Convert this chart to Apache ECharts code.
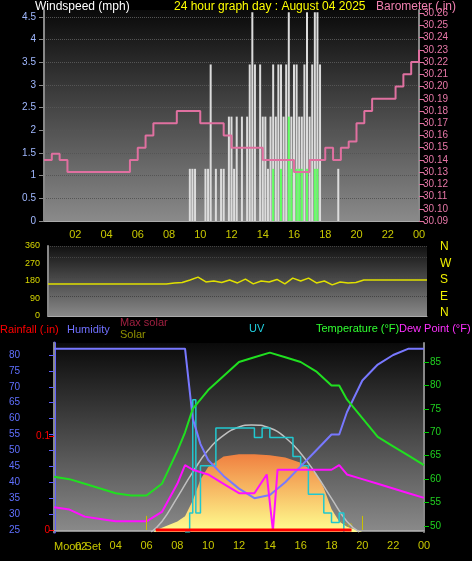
<!DOCTYPE html>
<html><head><meta charset="utf-8">
<script src="https://cdn.jsdelivr.net/npm/echarts@6/dist/echarts.min.js"></script>
<style>html,body{margin:0;background:#000}#c{width:472px;height:561px}</style>
</head><body><div id="c"></div>
<script>
const hourTicksTop=[2,4,6,8,10,12,14,16,18,20,22,24];
const hourTicksBottom=[4,6,8,10,12,14,16,18,20,22,24];
const windTicks=[0,0.5,1,1.5,2,2.5,3,3.5,4,4.5];
const baroTicks=[30.09,30.1,30.11,30.12,30.13,30.14,30.15,30.16,30.17,30.18,30.19,30.2,30.21,30.22,30.23,30.24,30.25,30.26];
const dirTicks=[0,90,180,270,360];
const humTicks=[25,30,35,40,45,50,55,60,65,70,75,80];
const tempTicks=[50,55,60,65,70,75,80,85];
const rainTicks=[0,0.1];
// barometer every half hour 0..24
const baro=[30.14,30.145,30.14,30.13,30.13,30.13,30.13,30.13,30.13,30.13,30.13,30.14,30.15,30.16,30.17,30.17,30.17,30.18,30.18,30.18,30.17,30.17,30.17,30.16,30.15,30.15,30.15,30.15,30.14,30.14,30.14,30.14,30.13,30.13,30.14,30.14,30.15,30.14,30.15,30.155,30.17,30.18,30.19,30.19,30.19,30.2,30.21,30.22,30.23];
// wind gust every 10 min from 9:00 to 19:00
const gust=[0,0,1.15,1.15,1.15,0,0,0,1.15,1.15,3.45,0,1.15,0,1.15,1.15,0,2.3,2.3,1.15,2.3,0,2.3,0,2.3,3.45,4.6,3.45,0,3.45,2.3,2.3,1.15,2.3,3.45,2.3,3.45,3.45,2.3,3.45,4.6,2.3,3.45,3.45,2.3,2.3,3.45,4.6,2.3,3.45,4.6,4.6,3.45,0,0,0,0,0,0,1.15,0];
const avgWind=[0,0,0,0,0,0,0,0,0,0,0,0,0,0,0,0,0,0,0,0,0,0,0,0,0,0,0,0,0,0,0,0,0,0,1.15,0,0,1.15,0,0,2.3,1.15,0,1.15,1.15,1.15,0,1.15,0,0,1.15,1.15,0,0,0,0,0,0,0,0,0];
// wind direction every half hour
const dir=[165,165,165,165,165,165,165,165,165,165,165,165,165,165,165,165,170,172,185,200,175,180,172,185,170,190,165,180,175,188,165,195,180,195,170,180,160,175,170,172,185,185,185,185,185,185,185,185,185];
const humT=[0,8.5,9,9.5,10,11,12,13,14,15,16,17,18,18.5,19,20,21,22,23,24];
const hum=[82,82,60,52,47,42,38,35,36,40,45,50,55,55,62,72,77,80,82,82];
const tempT=[0,1,2,3,4,5,6,7,8,8.5,9,10,11,12,13,14,15,16,17,18,18.5,19,20,21,22,23,24];
const temp=[60.5,60,59,58,57,56.5,56.5,59,66,70,75,79,82,85,86,87,86,85,83,80,80,77,73,69,67,65,63];
const dewT=[0,1,2,3,4,5,6,7,8,8.5,9,10,11,12,13,13.8,14.2,14.5,15,16,17,18,18.5,19,20,21,22,23,24];
const dew=[54,53.5,52,51.5,51,51,51,53,59,63,62,61,59,57,57,61,49,62,62,62,62,62,63,61,60,59,58,57,56];
const solarT=[6.5,7,8,8.5,9,9.5,10,11,12,13,14,15,16,17,17.5,18,18.5,19,20];
const solar=[10,40,100,150,300,500,620,720,740,740,730,710,660,560,420,220,100,50,0];
const maxSolarT=[6.3,7,8,9,10,11,12,12.8,14,15,16,17,18,19,19.8];
const maxSolar=[0,100,330,570,780,920,1000,1020,990,900,750,550,320,100,0];
const uvT=[8.5,8.8,9,9.2,9.5,10.3,10.5,12.5,13,13.5,14,14.5,15.5,16,16.5,17.5,18,18.5,18.8];
const uv=[0,1,7,1,3.5,3.5,5.5,5.5,5,5.5,5,5,4,3.5,2,1,0.5,1,0];
const rainT=[6.6,19.3];
const rain=[0,0];

const pair=(xs,ys)=>xs.map((x,i)=>[x,ys[i]]);
const halfHour=a=>a.map((v,i)=>[i*0.5,v]);
const tenMin=a=>a.map((v,i)=>[9+i/6,v]);
const pad=v=>String(v%24).padStart(2,'0');
const bg=(a,b)=>({type:'linear',x:0,y:0,x2:0,y2:1,colorStops:[{offset:0,color:a},{offset:1,color:b}]});
const F='Liberation Sans';
const xa=(gi,ticks,show)=>({type:'value',gridIndex:gi,min:0,max:24,
 axisLine:{show:true,lineStyle:{color:'#aaa'}},axisTick:{show:false},splitLine:{show:false},
 axisLabel:{show:show,customValues:ticks,formatter:pad,color:'#c8c800',fontFamily:F,fontSize:11,margin:8}});
const ch=echarts.init(document.getElementById('c'));
ch.setOption({
 backgroundColor:'#000',animation:false,
 grid:[
  {left:44,right:53,top:10,height:211,show:true,backgroundColor:bg('#0a0a0a','#8a8a8a'),borderWidth:0},
  {left:48,right:45,top:246,height:70,show:true,backgroundColor:bg('#111','#888'),borderWidth:0},
  {left:54,right:48,top:343,height:189,show:true,backgroundColor:bg('#0a0a0a','#8a8a8a'),borderWidth:0}
 ],
 xAxis:[xa(0,hourTicksTop,true),xa(1,[],false),xa(2,hourTicksBottom,true)],
 yAxis:[
  {type:'value',gridIndex:0,min:0,max:4.65,axisLine:{show:true,lineStyle:{color:'#888',width:2}},axisTick:{show:true,customValues:windTicks,lineStyle:{color:'#888'}},
   splitLine:{show:true,lineStyle:{color:'#555',type:'dotted'}},axisLabel:{customValues:windTicks,color:'#a0b8ff',fontFamily:F,fontSize:10}},
  {type:'value',gridIndex:0,min:30.09,max:30.2626,position:'right',axisLine:{show:true,lineStyle:{color:'#888',width:2}},axisTick:{show:true,customValues:baroTicks,lineStyle:{color:'#e070a0'}},
   splitLine:{show:false},axisLabel:{customValues:baroTicks,formatter:v=>v.toFixed(2),color:'#e878a8',fontFamily:F,fontSize:10,margin:4}},
  {type:'value',gridIndex:1,min:0,max:360,axisLine:{show:true,lineStyle:{color:'#888',width:2}},axisTick:{show:false},
   splitLine:{show:true,lineStyle:{color:'#444',type:'dotted'}},axisLabel:{customValues:dirTicks,color:'#d8d800',fontFamily:F,fontSize:9}},
  {type:'value',gridIndex:2,min:24.37,max:83.77,position:'left',offset:26,axisLine:{show:true,lineStyle:{color:'#6060ff',width:3}},axisTick:{show:true,customValues:humTicks,lineStyle:{color:'#6060ff'}},
   splitLine:{show:false},axisLabel:{customValues:humTicks,color:'#6070ff',fontFamily:F,fontSize:10}},
  {type:'value',gridIndex:2,min:-0.0021,max:0.199,position:'left',offset:0,axisLine:{show:true,lineStyle:{color:'#888',width:2}},axisTick:{show:true,customValues:rainTicks,lineStyle:{color:'#f00'}},
   splitLine:{show:false},axisLabel:{customValues:rainTicks,color:'#f00',fontFamily:F,fontSize:10,margin:4}},
  {type:'value',gridIndex:2,min:48.72,max:89.05,position:'right',offset:0,axisLine:{show:true,lineStyle:{color:'#888',width:2}},axisTick:{show:true,customValues:tempTicks,lineStyle:{color:'#0c0'}},
   splitLine:{show:false},axisLabel:{customValues:tempTicks,color:'#20d020',fontFamily:F,fontSize:10,margin:6}},
  {type:'value',gridIndex:2,min:0,max:1800,show:false},
  {type:'value',gridIndex:2,min:0,max:10,show:false}
 ],
 series:[
  {type:'bar',xAxisIndex:0,yAxisIndex:0,data:tenMin(gust),barWidth:2,itemStyle:{color:'#dcdcdc'}},
  {type:'bar',xAxisIndex:0,yAxisIndex:0,data:tenMin(avgWind),barWidth:2,barGap:'-100%',itemStyle:{color:'#60ff60'}},
  {type:'line',xAxisIndex:0,yAxisIndex:1,data:halfHour(baro),step:'end',symbol:'none',lineStyle:{color:'#e070a0',width:2}},
  {type:'line',xAxisIndex:1,yAxisIndex:2,data:halfHour(dir),symbol:'none',lineStyle:{color:'#e0e000',width:1.5}},
  {type:'line',xAxisIndex:2,yAxisIndex:6,data:pair(solarT,solar),symbol:'none',lineStyle:{width:0},
   areaStyle:{opacity:1,color:bg('#f08040','#ffff90')}},
  {type:'line',xAxisIndex:2,yAxisIndex:6,data:pair(maxSolarT,maxSolar),smooth:true,symbol:'none',lineStyle:{color:'#c0c0c0',width:1.5}},
  {type:'line',xAxisIndex:2,yAxisIndex:7,data:pair(uvT,uv),step:'end',symbol:'none',lineStyle:{color:'#20c8d0',width:1.5}},
  {type:'line',xAxisIndex:2,yAxisIndex:3,data:pair(humT,hum),symbol:'none',lineStyle:{color:'#7878ff',width:2}},
  {type:'line',xAxisIndex:2,yAxisIndex:5,data:pair(tempT,temp),symbol:'none',lineStyle:{color:'#20e020',width:2}},
  {type:'line',xAxisIndex:2,yAxisIndex:5,data:pair(dewT,dew),symbol:'none',lineStyle:{color:'#ff10ff',width:2}},
  {type:'line',xAxisIndex:2,yAxisIndex:4,data:pair(rainT,rain),symbol:'none',lineStyle:{color:'#ff0000',width:3},
   markLine:{symbol:'none',silent:true,label:{show:false},lineStyle:{color:'#c8c000',type:'solid',width:1},
    data:[[{coord:[6,0]},{coord:[6,0.015]}],[{coord:[20,0]},{coord:[20,0.015]}]]}}
 ],
 graphic:[
  {type:'text',left:35,top:1,style:{text:'Windspeed (mph)',fill:'#fff',font:'12px '+F}},
  {type:'text',left:174,top:1,style:{text:'24 hour graph day : August 04 2025',fill:'#ffff00',font:'12px '+F}},
  {type:'text',left:376,top:1,style:{text:'Barometer (.in)',fill:'#f080b0',font:'12px '+F}},
  ...['N','W','S','E','N'].map((t,i)=>({type:'text',left:440,top:241+i*16.5,style:{text:t,fill:'#f0f000',font:'12px '+F}})),
  {type:'text',left:0,top:324,style:{text:'Rainfall (.in)',fill:'#ff0000',font:'11px '+F}},
  {type:'text',left:67,top:324,style:{text:'Humidity',fill:'#7070ff',font:'11px '+F}},
  {type:'text',left:120,top:317,style:{text:'Max solar',fill:'#a02040',font:'11px '+F}},
  {type:'text',left:120,top:329,style:{text:'Solar',fill:'#909000',font:'11px '+F}},
  {type:'text',left:249,top:323,style:{text:'UV',fill:'#20d0e0',font:'11px '+F}},
  {type:'text',left:316,top:323,style:{text:'Temperature (°F)',fill:'#30ff30',font:'11px '+F}},
  {type:'text',left:399,top:323,style:{text:'Dew Point (°F)',fill:'#ff30ff',font:'11px '+F}},
  {type:'text',left:54,top:541,style:{text:'Moon Set',fill:'#c8c800',font:'11px '+F}},
  {type:'text',left:75,top:541,style:{text:'02',fill:'#c8c800',font:'11px '+F}},
  {type:'text',left:305,top:521,style:{text:'Moon Rise',fill:'#c8c000',font:'10px '+F,opacity:0.7}}
 ]
});
</script></body></html>
